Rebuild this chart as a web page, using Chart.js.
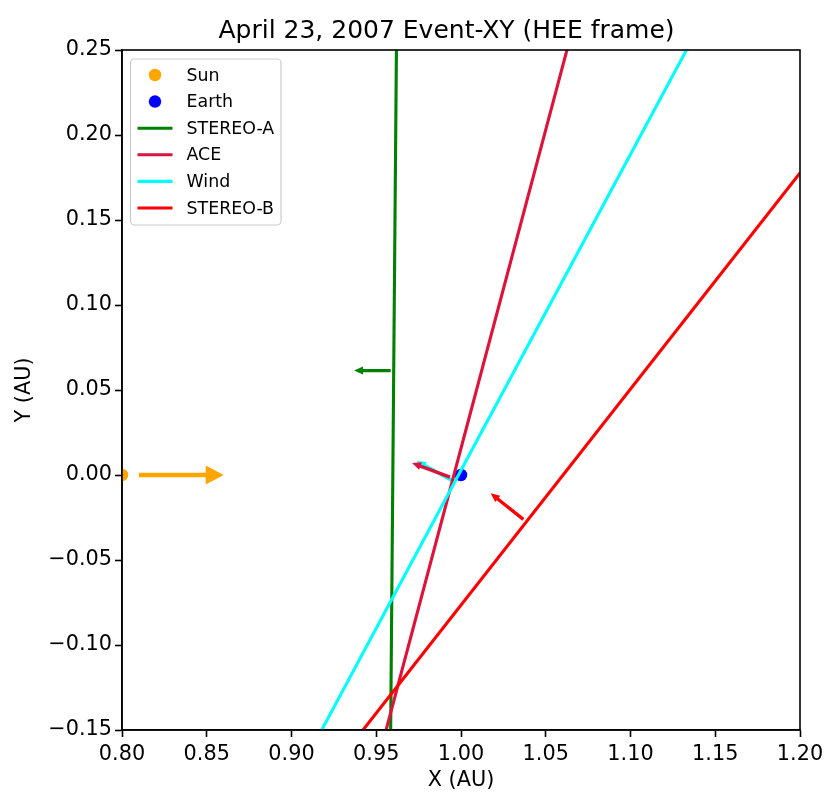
<!DOCTYPE html>
<html>
<head>
<meta charset="utf-8">
<script src="https://cdn.jsdelivr.net/npm/chart.js@4.4.0/dist/chart.umd.min.js"></script>
<style>
  html, body { margin: 0; padding: 0; background: #fff; }
  #wrap { width: 839px; height: 808px; }
</style>
</head>
<body>
<div id="wrap"><canvas id="chart" width="839" height="808"></canvas></div>
<script>
// Sun / Earth positions (AU, HEE)
const bodyNames = ['Sun', 'Earth'];
const bodyX = [0.80, 1.00];
const bodyY = [0.00, 0.00];

// spacecraft lines - end points read at the plot edges
const craftNames = ['STEREO-A', 'ACE', 'Wind', 'STEREO-B'];
const lineX0 = [0.9585, 0.9558, 0.9178, 0.9422];
const lineY0 = [-0.15, -0.15, -0.15, -0.15];
const lineX1 = [0.9619, 1.0625, 1.1330, 1.20];
const lineY1 = [0.25, 0.25, 0.25, 0.1776];

// arrows, tail -> tip
const arrowNames = ['Sun', 'STEREO-A', 'Wind', 'ACE', 'STEREO-B'];
const arrowX0 = [0.810, 0.9585, 0.9953, 0.9935, 1.0368];
const arrowY0 = [0.000, 0.0614, -0.0035, -0.0012, -0.0261];
const arrowX1 = [0.860, 0.9369, 0.9740, 0.9711, 1.0175];
const arrowY1 = [0.000, 0.0614, 0.0082, 0.0071, -0.0108];

const xTicks = [0.80, 0.85, 0.90, 0.95, 1.00, 1.05, 1.10, 1.15, 1.20];
const yTicks = [-0.15, -0.10, -0.05, 0.00, 0.05, 0.10, 0.15, 0.20, 0.25];

const COLORS = {
  'Sun': '#ffa500', 'Earth': '#0000ff',
  'STEREO-A': '#008000', 'ACE': '#dc143c', 'Wind': '#00ffff', 'STEREO-B': '#ff0000'
};
const ARROW_STYLE = {
  'Sun': { w: 4.3, hw: 19, hl: 18 },
  'default': { w: 3.4, hw: 8, hl: 9 }
};
const FONT = "'DejaVu Sans', sans-serif";

function fmt(v) {
  if (Math.abs(v) < 1e-9) v = 0;
  return v.toFixed(2).replace('-', '\u2212');
}

const datasets = [];
bodyNames.forEach((name, i) => {
  datasets.push({
    label: name,
    data: [{ x: bodyX[i], y: bodyY[i] }],
    backgroundColor: COLORS[name],
    borderColor: COLORS[name],
    borderWidth: 0,
    pointRadius: 6.25,
    showLine: false,
    clip: 0,
    order: 20,
    _kind: 'point'
  });
});
craftNames.forEach((name, i) => {
  datasets.push({
    label: name,
    data: [{ x: lineX0[i], y: lineY0[i] }, { x: lineX1[i], y: lineY1[i] }],
    borderColor: COLORS[name],
    backgroundColor: COLORS[name],
    borderWidth: 3.1,
    pointRadius: 0,
    showLine: true,
    clip: 0,
    order: 10 - i,
    _kind: 'line'
  });
});

function drawArrow(ctx, x0, y0, x1, y1, st, color) {
  const dx = x1 - x0, dy = y1 - y0, L = Math.hypot(dx, dy);
  const ux = dx / L, uy = dy / L, nx = -uy, ny = ux;
  const bx = x1 - ux * st.hl, by = y1 - uy * st.hl;
  ctx.beginPath();
  ctx.moveTo(x0 + nx * st.w / 2, y0 + ny * st.w / 2);
  ctx.lineTo(bx + nx * st.w / 2, by + ny * st.w / 2);
  ctx.lineTo(bx + nx * st.hw / 2, by + ny * st.hw / 2);
  ctx.lineTo(x1, y1);
  ctx.lineTo(bx - nx * st.hw / 2, by - ny * st.hw / 2);
  ctx.lineTo(bx - nx * st.w / 2, by - ny * st.w / 2);
  ctx.lineTo(x0 - nx * st.w / 2, y0 - ny * st.w / 2);
  ctx.closePath();
  ctx.fillStyle = color;
  ctx.fill();
}

const arrowPlugin = {
  id: 'arrows',
  beforeDatasetsDraw(chart) {
    const { ctx, chartArea, scales: { x, y } } = chart;
    ctx.save();
    ctx.beginPath();
    ctx.rect(chartArea.left, chartArea.top, chartArea.right - chartArea.left, chartArea.bottom - chartArea.top);
    ctx.clip();
    arrowNames.forEach((name, i) => {
      const st = ARROW_STYLE[name] || ARROW_STYLE.default;
      drawArrow(ctx,
        x.getPixelForValue(arrowX0[i]), y.getPixelForValue(arrowY0[i]),
        x.getPixelForValue(arrowX1[i]), y.getPixelForValue(arrowY1[i]),
        st, COLORS[name]);
    });
    ctx.restore();
  }
};

// frame, title and matplotlib-like legend
const decorPlugin = {
  id: 'decor',
  afterDraw(chart) {
    const { ctx, chartArea: a } = chart;
    ctx.save();
    ctx.strokeStyle = '#000';
    ctx.lineWidth = 1.6;
    ctx.strokeRect(a.left, a.top, a.right - a.left, a.bottom - a.top);

    ctx.fillStyle = '#000';
    ctx.font = '25px ' + FONT;
    ctx.textAlign = 'center';
    ctx.textBaseline = 'alphabetic';
    ctx.fillText('April 23, 2007 Event-XY (HEE frame)', 446.5, 37.5);

    // legend
    const bx = 130.5, by = 59, bw = 150.5, bh = 166, r = 4;
    ctx.beginPath();
    ctx.roundRect(bx, by, bw, bh, r);
    ctx.fillStyle = 'rgba(255,255,255,0.8)';
    ctx.fill();
    ctx.strokeStyle = '#cccccc';
    ctx.lineWidth = 1.2;
    ctx.stroke();

    ctx.font = '17.4px ' + FONT;
    ctx.textAlign = 'left';
    ctx.textBaseline = 'middle';
    chart.data.datasets.forEach((ds, i) => {
      const cy = 75 + i * 26.6;
      if (ds._kind === 'point') {
        ctx.beginPath();
        ctx.arc(155, cy, 6.25, 0, Math.PI * 2);
        ctx.fillStyle = ds.backgroundColor;
        ctx.fill();
      } else {
        ctx.beginPath();
        ctx.moveTo(137.5, cy);
        ctx.lineTo(172.5, cy);
        ctx.strokeStyle = ds.borderColor;
        ctx.lineWidth = 3.1;
        ctx.stroke();
      }
      ctx.fillStyle = '#000';
      ctx.fillText(ds.label, 186.5, cy + 1);
    });
    ctx.restore();
  }
};

const tickFont = { family: FONT, size: 20.8 };

new Chart(document.getElementById('chart'), {
  type: 'scatter',
  data: { datasets },
  plugins: [arrowPlugin, decorPlugin],
  options: {
    responsive: false,
    animation: false,
    layout: { padding: { top: 50, right: 39, left: 0, bottom: 0 } },
    plugins: {
      legend: { display: false },
      title: { display: false },
      tooltip: { enabled: false }
    },
    scales: {
      x: {
        type: 'linear',
        min: 0.80,
        max: 1.20,
        afterFit: (s) => { s.height = 78; },
        afterBuildTicks: (s) => { s.ticks = xTicks.map(v => ({ value: v })); },
        grid: { drawOnChartArea: false, drawTicks: true, tickLength: 7, tickWidth: 1.6, tickColor: '#000' },
        border: { display: true, color: '#000', width: 1.6 },
        ticks: { color: '#000', font: tickFont, padding: 5, maxRotation: 0, autoSkip: false, callback: (v) => fmt(v) },
        title: { display: true, text: 'X (AU)', color: '#000', font: { family: FONT, size: 20.8 }, padding: { top: 0, bottom: 15 } }
      },
      y: {
        type: 'linear',
        min: -0.15,
        max: 0.25,
        afterFit: (s) => { s.width = 122; },
        afterBuildTicks: (s) => { s.ticks = yTicks.map(v => ({ value: v })); },
        grid: { drawOnChartArea: false, drawTicks: true, tickLength: 7, tickWidth: 1.6, tickColor: '#000' },
        border: { display: true, color: '#000', width: 1.6 },
        ticks: { color: '#000', font: tickFont, padding: 3, autoSkip: false, callback: (v) => fmt(v) },
        title: { display: true, text: 'Y (AU)', color: '#000', font: { family: FONT, size: 20.8 }, padding: { top: 12, bottom: 0 } }
      }
    }
  }
});
</script>
</body>
</html>
